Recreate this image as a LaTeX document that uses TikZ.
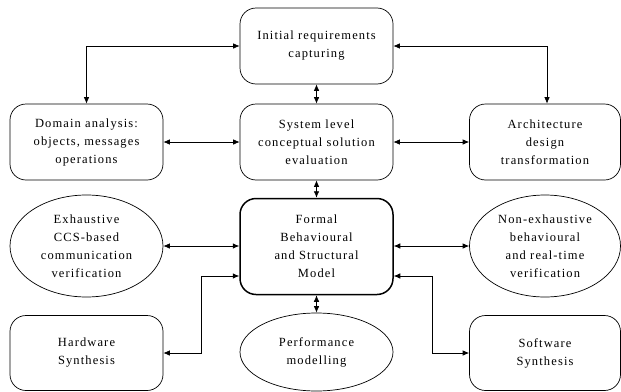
\documentclass[tikz,border=0pt]{standalone}
\usepackage{fontspec}
\setmainfont[LetterSpace=9]{Liberation Serif}
\usetikzlibrary{shapes.geometric}
\usetikzlibrary{arrows.meta}

\begin{document}
\begin{tikzpicture}[x=1pt,y=-1pt,
	every node/.style={font=\fontsize{12.5}{18}\selectfont, align=center, inner sep=0pt},
	box/.style={draw, line width=0.7pt, rounded corners=16pt, minimum width=153pt, minimum height=76pt},
	oval/.style={draw, ellipse, line width=0.7pt, minimum width=153pt, minimum height=102pt},
	link/.style={<->, >={Latex[length=6.5pt,width=5.5pt]}, line width=0.7pt}]
	\useasboundingbox (0,0) rectangle (621,391);
	% Nodes
	\node[box] (init) at (316.5,46) {Initial requirements\\capturing};
	\node[box] (dom) at (86.5,142) {Domain analysis:\\objects, messages\\operations};
	\node[box] (sys) at (316.5,142) {System level\\conceptual solution\\evaluation};
	\node[box, minimum width=151pt] (arch) at (545,142) {Architecture\\design\\transformation};
	
	\node[oval] (exh) at (86.5,246) {Exhaustive\\CCS-based\\communication\\verification};
	\node[box, line width=1.5pt, minimum height=96pt] (formal) at (316.5,246.5) {Formal\\Behavioural\\and Structural\\Model};
	\node[oval, minimum width=151pt] (nonex) at (545,246) {Non-exhaustive\\behavioural\\and real-time\\verification};
	
	\node[box, minimum height=75pt] (hw) at (86.5,353) {Hardware\\Synthesis};
	\node[oval, minimum height=78pt] (perf) at (316.5,352) {Performance\\modelling};
	\node[box, minimum width=151pt, minimum height=75pt] (sw) at (545,353) {Software\\Synthesis};
	
	% Connectors
	\draw[link] (init.west) -| (dom.north);
	\draw[link] (init.east) -| ([xshift=2pt]arch.north);
	\draw[link] (init) -- (sys);
	\draw[link] (dom) -- (sys);
	\draw[link] (sys) -- (arch);
	\draw[link] (sys) -- (formal);
	\draw[link] (exh.east) -- (exh.east -| formal.west);
	\draw[link] (nonex.west -| formal.east) -- (nonex.west);
	\draw[link] (hw.east) -- ++(38,0) |- ([yshift=-29.5pt]formal.west);
	\draw[link] ([yshift=-29.5pt]formal.east) -| ++(39,0) |- (sw.west);
	\draw[link] (formal) -- (perf);
	
\end{tikzpicture}
\end{document}
